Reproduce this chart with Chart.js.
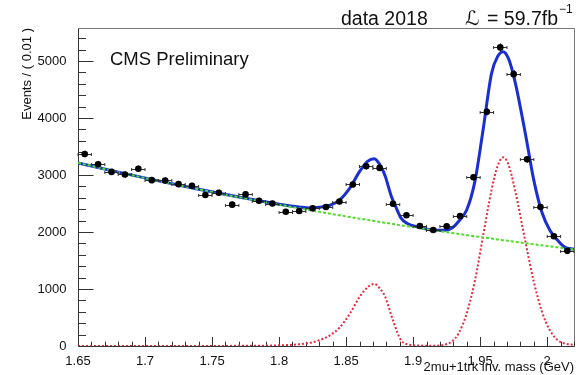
<!DOCTYPE html>
<html>
<head>
<meta charset="utf-8">
<script src="https://cdn.jsdelivr.net/npm/chart.js@4.4.0/dist/chart.umd.min.js"></script>
<style>
html, body { margin: 0; padding: 0; background: #fff; }
#wrap { width: 586px; height: 375px; }
</style>
</head>
<body>
<div id="wrap"><canvas id="massChart" width="586" height="375"></canvas></div>
<script>
// binned data, 0.01 GeV bins
var binCenters = [1.655, 1.665, 1.675, 1.685, 1.695, 1.705, 1.715, 1.725, 1.735, 1.745,
                  1.755, 1.765, 1.775, 1.785, 1.795, 1.805, 1.815, 1.825, 1.835, 1.845,
                  1.855, 1.865, 1.875, 1.885, 1.895, 1.905, 1.915, 1.925, 1.935, 1.945,
                  1.955, 1.965, 1.975, 1.985, 1.995, 2.005, 2.015]
var counts = [3370, 3190, 3055, 3010, 3110, 2910, 2905, 2840, 2810, 2650,
              2690, 2480, 2660, 2550, 2500, 2355, 2370, 2415, 2440, 2535,
              2835, 3155, 3125, 2495, 2295, 2105, 2035, 2100, 2280, 2960,
              4110, 5240, 4770, 3275, 2440, 1925, 1670]
var countErr = [58, 56, 55, 55, 56, 54, 54, 53, 53, 51,
                52, 50, 52, 50, 50, 49, 49, 49, 49, 50,
                53, 56, 56, 50, 48, 46, 45, 46, 48, 54,
                64, 72, 69, 57, 49, 44, 41]
var binHalf = 0.005

// fit curves (total, background, signal)
var curveX = [1.65, 1.68, 1.71, 1.74, 1.77, 1.80, 1.815, 1.823, 1.830, 1.838,
              1.845, 1.853, 1.860, 1.866, 1.871, 1.876, 1.879, 1.884, 1.888, 1.891,
              1.895, 1.905, 1.915, 1.923, 1.929, 1.934, 1.940, 1.946, 1.952, 1.9585,
              1.963, 1.967, 1.971, 1.976, 1.984, 1.990, 1.996, 2.002, 2.008, 2.013, 2.02]
var totalFit = [3214, 3051, 2897, 2751, 2614, 2488, 2440, 2422, 2435, 2470,
                2560, 2780, 3060, 3240, 3287, 3150, 2990, 2610, 2390, 2245,
                2160, 2080, 2034, 2030, 2070, 2190, 2390, 2880, 3765, 4784,
                5080, 5165, 5050, 4640, 3690, 2910, 2350, 2030, 1850, 1735, 1700]
var bkgFit = [3214, 3051, 2897, 2750, 2611, 2479, 2416, 2383, 2354, 2322,
              2294, 2262, 2235, 2212, 2193, 2174, 2163, 2144, 2129, 2118,
              2104, 2068, 2032, 2004, 1983, 1966, 1946, 1926, 1906, 1885,
              1870, 1857, 1845, 1828, 1803, 1785, 1766, 1748, 1730, 1715, 1695]
var sigFit = [0, 0, 0, 1, 3, 12, 30, 55, 100, 188,
              320, 575, 860, 1030, 1090, 985, 870, 520, 250, 100,
              35, 8, 4, 20, 80, 225, 575, 1140, 1910, 2740,
              3160, 3310, 3190, 2740, 1800, 1130, 610, 275, 100, 45, 20]

var xTickVals = [1.65, 1.7, 1.75, 1.8, 1.85, 1.9, 1.95, 2.0]
var xTickLabels = ['1.65', '1.7', '1.75', '1.8', '1.85', '1.9', '1.95', '2']
var yTickVals = [0, 1000, 2000, 3000, 4000, 5000]

var FONT = "'Liberation Sans', Arial, Helvetica, sans-serif"
Chart.defaults.font.family = FONT
Chart.defaults.color = '#111'

function pts(xs, ys) {
    return xs.map(function (x, i) { return { x: x, y: ys[i] } })
}

// frame + ticks pointing inwards
var rootFrame = {
    id: 'rootFrame',
    beforeDatasetsDraw: function (chart) {
        var ctx = chart.ctx, a = chart.chartArea
        var xs = chart.scales.x, ys = chart.scales.y
        var L = Math.round(a.left) + 0.5, R = Math.round(a.right) + 0.5
        var T = Math.round(a.top) + 0.5, B = Math.round(a.bottom) + 0.5
        ctx.save()
        ctx.lineWidth = 1
        // top and right edges of the frame are lighter than the axes
        ctx.strokeStyle = '#777'
        ctx.beginPath()
        ctx.moveTo(L, T); ctx.lineTo(R, T); ctx.lineTo(R, B)
        ctx.stroke()
        ctx.strokeStyle = '#333'
        ctx.beginPath()
        ctx.moveTo(L, T); ctx.lineTo(L, B); ctx.lineTo(R, B)
        for (var k = 0; k <= 37; k++) {
            var v = 1.65 + k * 0.01
            if (v > xs.max + 1e-9) break
            var px = Math.round(xs.getPixelForValue(v)) + 0.5
            var major = Math.abs(k / 5 - Math.round(k / 5)) < 1e-6
            ctx.moveTo(px, B)
            ctx.lineTo(px, B - (major ? 9.5 : 4.8))
        }
        for (var j = 0; j * 200 <= ys.max; j++) {
            var py = Math.round(ys.getPixelForValue(j * 200)) + 0.5
            ctx.moveTo(L, py)
            ctx.lineTo(L + (j % 5 === 0 ? 15 : 7.5), py)
        }
        ctx.stroke()
        ctx.restore()
    }
}

// horizontal bin-width bars and vertical stat errors, under the markers
var errorBars = {
    id: 'errorBars',
    beforeDatasetDraw: function (chart, args) {
        if (args.index !== 0) return
        var ctx = chart.ctx, xs = chart.scales.x, ys = chart.scales.y
        ctx.save()
        ctx.strokeStyle = '#333'
        ctx.lineWidth = 1
        ctx.beginPath()
        binCenters.forEach(function (c, i) {
            var x0 = xs.getPixelForValue(c - binHalf), x1 = xs.getPixelForValue(c + binHalf)
            var yc = Math.round(ys.getPixelForValue(counts[i])) + 0.5
            var xc = Math.round(xs.getPixelForValue(c)) + 0.5
            ctx.moveTo(x0, yc); ctx.lineTo(x1, yc)
            ctx.moveTo(x0, yc - 1.5); ctx.lineTo(x0, yc + 1.5)
            ctx.moveTo(x1, yc - 1.5); ctx.lineTo(x1, yc + 1.5)
            ctx.moveTo(xc, ys.getPixelForValue(counts[i] + countErr[i]))
            ctx.lineTo(xc, ys.getPixelForValue(counts[i] - countErr[i]))
        })
        ctx.stroke()
        ctx.restore()
    }
}

// header and experiment label
var labels = {
    id: 'labels',
    afterDraw: function (chart) {
        var ctx = chart.ctx
        ctx.save()
        ctx.fillStyle = '#111'
        ctx.textBaseline = 'alphabetic'
        ctx.textAlign = 'left'
        ctx.font = '18.5px ' + FONT
        ctx.fillText('CMS Preliminary', 110, 65)
        ctx.font = '19.5px ' + FONT
        ctx.fillText('data 2018', 341, 25)
        ctx.font = "italic 20px 'DejaVu Serif', 'DejaVu Sans', serif"
        ctx.fillText('\u2112', 465, 25)
        ctx.font = '19.5px ' + FONT
        ctx.fillText('= 59.7fb', 487, 25)
        var w = ctx.measureText('= 59.7fb').width
        ctx.font = '12px ' + FONT
        ctx.fillText('\u22121', 487 + w + 1, 13)
        ctx.restore()
    }
}

new Chart(document.getElementById('massChart'), {
    type: 'line',
    data: {
        datasets: [
            {
                label: 'data',
                data: pts(binCenters, counts),
                showLine: false,
                pointRadius: 3.3,
                pointBackgroundColor: '#000',
                pointBorderColor: '#000',
                pointBorderWidth: 0
            },
            {
                label: 'background',
                data: pts(curveX, bkgFit),
                borderColor: '#4ede2a',
                borderWidth: 2,
                borderDash: [3, 2],
                pointRadius: 0,
                cubicInterpolationMode: 'monotone'
            },
            {
                label: 'signal',
                data: pts(curveX, sigFit),
                borderColor: '#e8283c',
                borderWidth: 2,
                borderDash: [2, 2],
                pointRadius: 0,
                cubicInterpolationMode: 'monotone'
            },
            {
                label: 'fit',
                data: pts(curveX, totalFit),
                borderColor: '#1a2ed2',
                borderWidth: 3,
                pointRadius: 0,
                cubicInterpolationMode: 'monotone'
            }
        ]
    },
    options: {
        responsive: false,
        animation: false,
        layout: { padding: { left: 0, right: 12, top: 28, bottom: 0 } },
        plugins: { legend: { display: false }, tooltip: { enabled: false } },
        scales: {
            x: {
                type: 'linear',
                min: 1.65,
                max: 2.02,
                afterFit: function (s) { s.height = 29 },
                afterBuildTicks: function (s) { s.ticks = xTickVals.map(function (v) { return { value: v } }) },
                grid: { display: false },
                border: { display: false },
                ticks: {
                    autoSkip: false,
                    maxRotation: 0,
                    padding: 0,
                    font: { size: 13 },
                    color: '#111',
                    callback: function (v, i) { return xTickLabels[i] }
                },
                title: {
                    display: true,
                    text: '2mu+1trk inv. mass (GeV)',
                    align: 'end',
                    color: '#111',
                    font: { size: 13 },
                    padding: { top: 0, bottom: 0 }
                }
            },
            y: {
                type: 'linear',
                min: 0,
                max: 5580,
                afterFit: function (s) { s.width = 78 },
                afterBuildTicks: function (s) { s.ticks = yTickVals.map(function (v) { return { value: v } }) },
                grid: { display: false },
                border: { display: false },
                ticks: {
                    padding: 3.5,
                    font: { size: 13 },
                    color: '#111',
                    callback: function (v) { return String(v) }
                },
                title: {
                    display: true,
                    text: 'Events / ( 0.01 )',
                    align: 'end',
                    color: '#111',
                    font: { size: 13 },
                    padding: { top: 20, bottom: 0 }
                }
            }
        }
    },
    plugins: [rootFrame, errorBars, labels]
})
</script>
</body>
</html>
